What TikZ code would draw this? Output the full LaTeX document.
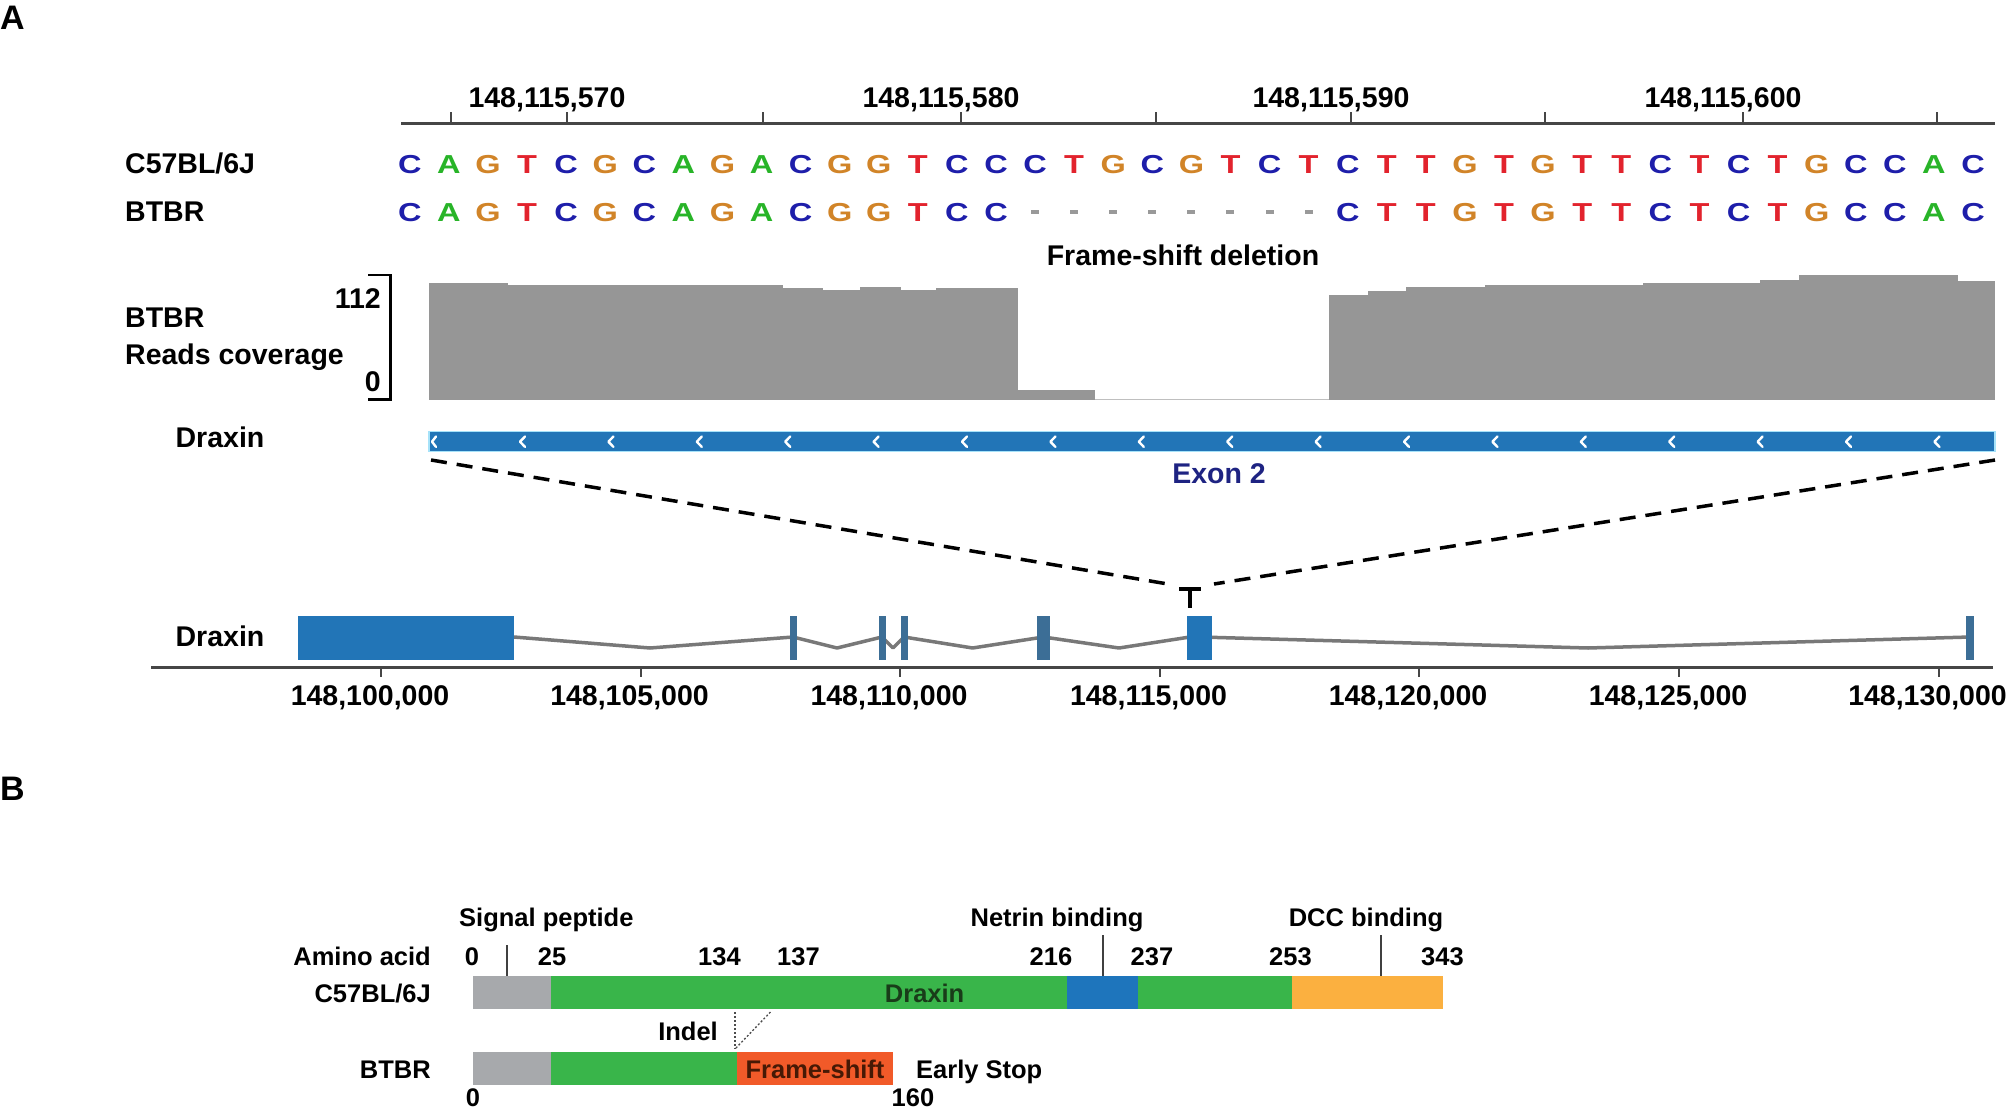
\documentclass[tikz,border=0pt]{standalone}
\usepackage{fontspec}
\setmainfont{Liberation Sans}
\newfontfamily\seqfont{Liberation Sans}[FakeStretch=1.25]
\definecolor{seqC}{RGB}{30,30,170}
\definecolor{seqA}{RGB}{40,180,40}
\definecolor{seqG}{RGB}{209,132,40}
\definecolor{seqT}{RGB}{226,35,45}
\definecolor{covgray}{RGB}{150,150,150}
\definecolor{exonblue}{RGB}{34,117,183}
\definecolor{narrowblue}{RGB}{60,110,150}
\definecolor{introngray}{RGB}{120,120,120}
\definecolor{navy}{RGB}{30,35,130}
\definecolor{rulergray}{RGB}{70,70,70}
\definecolor{pgray}{RGB}{167,169,172}
\definecolor{pgreen}{RGB}{57,181,74}
\definecolor{pblue}{RGB}{30,117,188}
\definecolor{porange}{RGB}{251,176,64}
\definecolor{pred}{RGB}{241,90,41}
\definecolor{darkgreen}{RGB}{25,60,25}
\definecolor{darkbrown}{RGB}{70,25,5}
\begin{document}
\begin{tikzpicture}[x=1pt,y=-1pt,
  lab/.style={inner sep=0pt, font=\fontsize{28.5}{30}\selectfont\bfseries, anchor=base},
  labB/.style={inner sep=0pt, font=\fontsize{25.5}{28}\selectfont\bfseries, anchor=base},
  seqletter/.style={inner sep=0pt, font=\seqfont\fontsize{26}{28}\selectfont\bfseries, anchor=base},
  panel/.style={inner sep=0pt, font=\fontsize{34}{36}\selectfont\bfseries, anchor=base},
  rulerline/.style={line width=3pt, rulergray},
  tickline/.style={line width=2pt, rulergray},
  intron/.style={line width=3.5pt, introngray, line join=round},
  marker/.style={line width=2pt, black!75},
  zoomdash/.style={line width=3.5pt, dash pattern=on 16pt off 10pt},
  chev/.style={white, line width=2.4pt, line cap=round, line join=round}
]
\useasboundingbox (0,0) rectangle (2008,1108);
\fill[white] (0,0) rectangle (2008,1108);

% ---------------- Panel A ----------------
\node[panel, anchor=base west] (pA) at (0,30) {A};

% top ruler
\draw[rulerline] (401,123) -- (1995,123);
\foreach \t in {451,567,763,961,1156,1351,1545,1743,1937}
  \draw[tickline] (\t,123) -- (\t,112);
\node[lab] (r570) at (547,107) {148,115,570};
\node[lab] (r580) at (941,107) {148,115,580};
\node[lab] (r590) at (1331,107) {148,115,590};
\node[lab] (r600) at (1723,107) {148,115,600};

% sequence rows
\node[lab, anchor=base west] (refname) at (125,173.5) {C57BL/6J};
\node[lab, anchor=base west] (altname) at (125,221.5) {BTBR};
\foreach \b [count=\i from 0] in {C,A,G,T,C,G,C,A,G,A,C,G,G,T,C,C,C,T,G,C,G,T,C,T,C,T,T,G,T,G,T,T,C,T,C,T,G,C,C,A,C}
  \node[seqletter, text=seq\b] (ref\i) at ({409.8+\i*39.08},173) {\b};
\foreach \b [count=\i from 0] in {C,A,G,T,C,G,C,A,G,A,C,G,G,T,C,C}
  \node[seqletter, text=seq\b] (alt\i) at ({409.8+\i*39.08},221) {\b};
\foreach \b [count=\i from 24] in {C,T,T,G,T,G,T,T,C,T,C,T,G,C,C,A,C}
  \node[seqletter, text=seq\b] (alt\i) at ({409.8+\i*39.08},221) {\b};
\foreach \i in {16,...,23}
  \fill[gray!80] ({409.8+\i*39.08-4},210) rectangle ({409.8+\i*39.08+4},213.5);
\node[lab] (fsdel) at (1183,265) {Frame-shift deletion};

% coverage
\node[lab, anchor=base west] (covname) at (125,327) {BTBR};
\node[lab, anchor=base west] (covlab) at (125,364) {Reads coverage};
\node[lab, anchor=base east] (cmax) at (381,308) {112};
\node[lab, anchor=base east] (cmin) at (381,391) {0};
\draw[line width=2.5pt] (368,275) -- (390.5,275) -- (390.5,399.5) -- (368,399.5);
\foreach \xa/\xb/\tp in {428.6/508.3/282.7, 508.3/783/285, 783/823/287.7, 823/860/290,
    860/901/287.3, 901/936/290, 936/1018/288, 1018/1095/390, 1329/1368/295,
    1368/1406/290.7, 1406/1485/287.3, 1485/1643/285, 1643/1760/282.7,
    1760/1799/280, 1799/1958/275, 1958/1995/280.7}
  \fill[covgray] (\xa,\tp) rectangle (\xb,399.5);
\draw[gray!50, line width=1pt] (1095,399) -- (1329,399);

% Draxin exon track
\node[lab] (trk) at (220,447) {Draxin};
\fill[exonblue] (429,431.7) rectangle (1995,451.7);
\draw[cyan!35, line width=1.2pt] (429,431.7) rectangle (1995,451.7);
\foreach \k in {0,...,16}
  \draw[chev] ({522+\k*88.4+3},436.5) -- ({522+\k*88.4-2},441.7) -- ({522+\k*88.4+3},446.9);
\draw[chev] (436,436.5) -- (432,441.7) -- (436,446.9);
\node[lab, text=navy] (exon2) at (1219,483) {Exon 2};

% zoom lines
\coordinate (zl) at (431,460);
\coordinate (zr) at (1995,460);
\coordinate (zlt) at (1168,584);
\coordinate (zrt) at (1214,584);
\draw[zoomdash] (zl) -- (zlt);
\draw[zoomdash] (zr) -- (zrt);
\coordinate (ta) at (1179,589);
\coordinate (tb) at (1201,589);
\coordinate (tc) at (1190,589);
\coordinate (td) at (1190,608);
\draw[line width=3.5pt] (ta) -- (tb);
\draw[line width=3.5pt] (tc) -- (td);

% gene model
\node[lab] (gene) at (220,646.5) {Draxin};
\draw[intron] (514,637) -- (650,648) -- (793,637) -- (837,648) -- (882,637) -- (893,648)
  -- (904,637) -- (972.6,648) -- (1043.5,637) -- (1119,648) -- (1190,637);
\draw[intron] (1200,637) -- (1588,648) -- (1970,637);
\fill[exonblue] (297.8,616) rectangle (514,659.5);
\fill[exonblue] (1186.7,616) rectangle (1211.7,659.5);
\foreach \xa/\xb in {789.5/797, 879/885.5, 901/907.5, 1037/1050, 1966/1973.5}
  \fill[narrowblue] (\xa,616) rectangle (\xb,659.5);
\draw[rulerline] (151,667) -- (1993,667);
\foreach \t/\lbl [count=\j] in {381/148{,}100{,}000, 640.5/148{,}105{,}000, 900/148{,}110{,}000,
    1159.5/148{,}115{,}000, 1419/148{,}120{,}000, 1679/148{,}125{,}000, 1938.5/148{,}130{,}000} {
  \draw[tickline] (\t,667) -- (\t,677);
  \node[lab] (g\j) at (\t-11,705) {\lbl};
}

% ---------------- Panel B ----------------
\node[panel, anchor=base west] (pB) at (0,800) {B};

\node[labB, anchor=base west] (sig) at (459,926) {Signal peptide};
\node[labB] (net) at (1057,926) {Netrin binding};
\node[labB] (dcc) at (1366,926) {DCC binding};
\node[labB, anchor=base east] (aa) at (431,965) {Amino acid};
\foreach \p/\v [count=\j] in {472/0, 552/25, 719.5/134, 798.5/137, 1051/216, 1152/237, 1290.5/253, 1442.5/343}
  \node[labB] (aa\j) at (\p,965) {\v};

\node[labB, anchor=base east] (bref) at (431,1002) {C57BL/6J};
\node[labB, anchor=base east] (balt) at (431,1078) {BTBR};

% C57BL/6J protein
\fill[pgray]   (473,976) rectangle (551.5,1009.3);
\fill[pgreen]  (551,976) rectangle (1067,1009.3);
\fill[pblue]   (1066.7,976) rectangle (1138.5,1009.3);
\fill[pgreen]  (1138,976) rectangle (1292.5,1009.3);
\fill[porange] (1292,976) rectangle (1443.3,1009.3);
\node[labB, text=darkgreen] (dx) at (924.6,1002) {Draxin};

% markers
\draw[marker] (506.7,945) -- (506.7,976);
\draw[marker] (1103,935) -- (1103,976);
\draw[marker] (1381,935) -- (1381,976);

% BTBR protein
\fill[pgray]  (473,1051.7) rectangle (551.5,1085);
\fill[pgreen] (551,1051.7) rectangle (737,1085);
\fill[pred]   (736.5,1051.7) rectangle (893,1085);
\node[labB, text=darkbrown] (fs) at (815,1078) {Frame-shift};
\node[labB, anchor=base west] (es) at (916,1078) {Early Stop};
\node[labB] (indel) at (688,1040) {Indel};
\coordinate (ia) at (735,1012);
\coordinate (ib) at (770.5,1012);
\coordinate (ic) at (735,1049);
\draw[black!70, line width=1.3pt, dash pattern=on 2pt off 2pt] (ia) -- (ic);
\draw[black!70, line width=1.3pt, dash pattern=on 2pt off 2pt] (ib) -- (ic);
\node[labB] (b0) at (473,1106) {0};
\node[labB] (b160) at (913,1106) {160};
\end{tikzpicture}
\end{document}
